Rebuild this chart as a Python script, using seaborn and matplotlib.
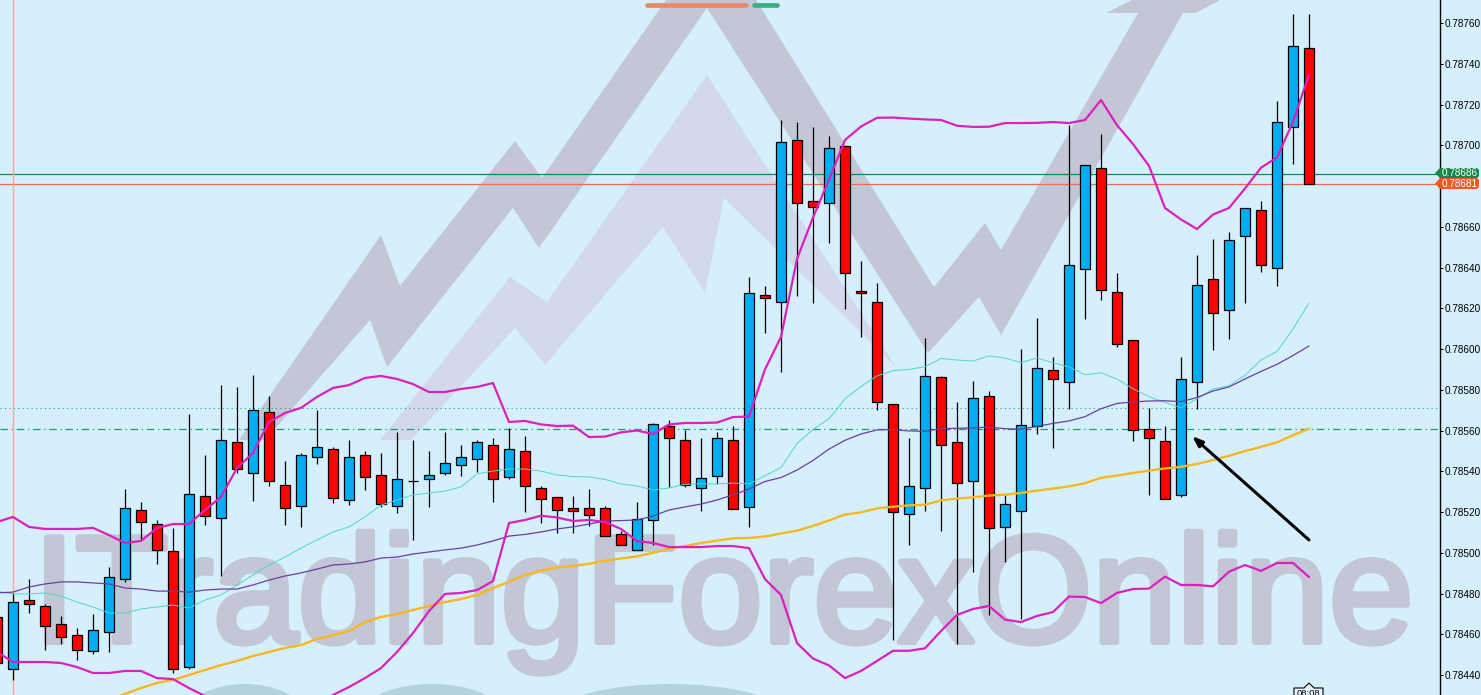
import matplotlib
matplotlib.use("Agg")
import matplotlib.patheffects as pe
import matplotlib.pyplot as plt
import numpy as np
import pandas as pd
import seaborn as sns
from matplotlib.patches import Ellipse, Polygon
from matplotlib.transforms import IdentityTransform

# all prices in 1e-5 units (points)
candle_index = list(range(-1, 82))

opens = [78468.5, 78443.0, 78476.8, 78473.9, 78465.0, 78459.6, 78451.8, 78461.1, 78487.1, 78521.0,
         78514.1, 78500.9, 78443.9, 78527.9, 78517.1, 78554.4, 78539.2, 78569.1, 78533.3, 78523.0,
         78547.0, 78550.9, 78525.9, 78548.0, 78538.2, 78523.0, 78535.0, 78536.2, 78539.2, 78543.1,
         78546.0, 78552.9, 78537.2, 78549.9, 78532.0, 78527.6, 78522.0, 78522.0, 78522.0, 78509.0,
         78501.5, 78516.1, 78562.2, 78555.2, 78532.0, 78537.8, 78555.2, 78522.7, 78626.3, 78622.9,
         78702.6, 78672.5, 78671.7, 78699.5, 78628.3, 78622.9, 78572.8, 78518.8, 78532.0, 78586.1,
         78554.2, 78535.1, 78576.8, 78512.8, 78520.7, 78562.0, 78589.9, 78584.0, 78639.3, 78689.0,
         78628.1, 78604.2, 78560.9, 78555.1, 78528.5, 78584.0, 78634.4, 78619.2, 78655.5, 78668.0,
         78639.9, 78709.1, 78747.6]
closes = [78445.9, 78475.8, 78474.9, 78464.1, 78458.7, 78452.3, 78462.1, 78488.1, 78522.0, 78515.1,
          78501.4, 78443.0, 78528.8, 78518.0, 78555.3, 78541.1, 78570.1, 78535.2, 78522.0, 78548.0,
          78551.9, 78526.9, 78547.0, 78537.2, 78523.9, 78536.2, 78535.0, 78538.2, 78544.1, 78547.0,
          78554.4, 78536.0, 78550.7, 78533.0, 78526.6, 78521.0, 78520.7, 78518.5, 78508.0, 78503.6,
          78516.8, 78563.0, 78556.1, 78533.3, 78536.9, 78556.1, 78521.6, 78627.3, 78625.2, 78701.4,
          78671.7, 78669.9, 78698.7, 78637.1, 78627.3, 78574.0, 78519.8, 78533.0, 78587.0, 78552.7,
          78534.1, 78575.8, 78512.0, 78523.7, 78562.9, 78590.9, 78585.1, 78641.0, 78690.2, 78629.2,
          78602.3, 78560.3, 78556.1, 78526.5, 78585.1, 78631.2, 78617.9, 78653.5, 78669.1, 78641.0,
          78711.3, 78748.5, 78681.0]
highs = [78468.5, 78480.3, 78487.1, 78474.9, 78469.0, 78463.1, 78469.9, 78493.0, 78531.3, 78524.9,
         78516.1, 78512.2, 78568.1, 78548.0, 78582.3, 78581.4, 78587.2, 78576.9, 78545.0, 78549.0,
         78570.1, 78551.9, 78555.3, 78549.9, 78549.0, 78559.3, 78555.3, 78549.9, 78559.3, 78552.9,
         78555.3, 78556.1, 78561.2, 78557.3, 78533.0, 78527.6, 78527.9, 78531.3, 78523.0, 78510.7,
         78524.9, 78563.9, 78565.2, 78560.3, 78556.1, 78559.3, 78562.0, 78635.3, 78631.1, 78712.2,
         78711.4, 78709.2, 78704.4, 78699.5, 78643.2, 78632.3, 78572.8, 78556.1, 78605.3, 78587.0,
         78573.8, 78584.2, 78579.4, 78528.8, 78600.0, 78615.3, 78595.9, 78709.9, 78690.2, 78705.6,
         78637.1, 78604.2, 78571.2, 78562.2, 78596.2, 78646.2, 78654.2, 78657.4, 78669.1, 78672.7,
         78721.7, 78764.4, 78764.4]
lows = [78445.9, 78437.6, 78470.4, 78452.3, 78455.2, 78447.4, 78450.3, 78451.3, 78485.7, 78506.3,
        78494.5, 78441.0, 78443.0, 78513.6, 78488.6, 78539.2, 78525.4, 78532.8, 78513.6, 78512.6,
        78543.6, 78524.4, 78523.4, 78530.8, 78522.5, 78519.5, 78506.3, 78522.5, 78538.2, 78537.7,
        78539.6, 78524.9, 78536.0, 78519.8, 78514.6, 78509.9, 78509.9, 78513.1, 78508.0, 78503.6,
        78501.5, 78503.6, 78532.3, 78532.3, 78520.7, 78533.8, 78521.6, 78512.8, 78608.1, 78588.9,
        78626.0, 78622.7, 78652.2, 78619.8, 78606.0, 78569.9, 78457.3, 78503.6, 78520.7, 78510.8,
        78455.3, 78490.6, 78469.5, 78495.5, 78467.5, 78558.1, 78551.6, 78570.7, 78614.7, 78624.1,
        78601.2, 78554.9, 78528.4, 78526.5, 78527.6, 78570.7, 78599.5, 78604.9, 78622.6, 78638.0,
        78630.9, 78690.8, 78681.0]

bb_upper = [78515.1, 78517.6, 78512.7, 78511.7, 78511.7, 78511.7, 78512.2, 78508.7, 78504.8, 78505.8,
            78512.2, 78514.1, 78514.1, 78521.0, 78527.4, 78541.6, 78549.0, 78564.2, 78568.6, 78571.1,
            78576.5, 78580.9, 78582.3, 78585.8, 78586.8, 78585.3, 78582.8, 78578.9, 78578.9, 78580.4,
            78581.4, 78583.3, 78564.2, 78564.7, 78563.0, 78562.2, 78562.4, 78556.8, 78557.0, 78559.1,
            78560.0, 78558.3, 78563.0, 78563.7, 78563.7, 78563.9, 78566.6, 78566.9, 78590.0, 78605.9,
            78644.2, 78664.5, 78683.1, 78702.6, 78709.2, 78713.5, 78713.6, 78713.1, 78712.7, 78712.4,
            78709.6, 78709.0, 78709.1, 78710.9, 78710.9, 78711.0, 78711.4, 78710.9, 78712.4, 78722.2,
            78709.9, 78700.6, 78689.9, 78669.2, 78663.6, 78658.9, 78666.0, 78669.2, 78678.8, 78689.0,
            78694.0, 78711.5, 78734.7]
bb_lower = [78451.3, 78446.4, 78446.4, 78446.4, 78445.9, 78443.9, 78441.0, 78441.0, 78442.0, 78442.0,
            78438.5, 78438.0, 78433.6, 78429.7, 78426.3, 78423.8, 78421.9, 78420.4, 78420.4, 78421.9,
            78424.8, 78430.2, 78434.1, 78438.5, 78443.4, 78451.3, 78460.6, 78471.4, 78479.8, 78480.3,
            78481.7, 78486.1, 78514.6, 78516.1, 78518.2, 78517.3, 78515.6, 78516.1, 78515.1, 78511.7,
            78505.8, 78504.8, 78502.8, 78502.8, 78502.8, 78503.3, 78503.3, 78502.3, 78487.1, 78479.3,
            78455.7, 78448.1, 78444.7, 78438.5, 78442.0, 78446.9, 78451.9, 78451.9, 78453.1, 78461.6,
            78469.5, 78472.4, 78473.9, 78467.2, 78466.0, 78469.0, 78470.9, 78478.5, 78478.3, 78475.3,
            78480.3, 78482.2, 78482.4, 78488.3, 78484.2, 78484.2, 78483.5, 78490.7, 78494.0, 78491.1,
            78495.0, 78495.0, 78488.1]
ma_cyan = [78481.2, 78479.8, 78479.8, 78480.3, 78478.8, 78475.8, 78473.4, 78470.4, 78470.4, 78472.4,
           78473.4, 78474.4, 78472.9, 78476.8, 78479.3, 78484.2, 78489.1, 78494.0, 78497.9, 78502.3,
           78506.3, 78510.2, 78512.7, 78517.6, 78523.4, 78525.9, 78528.4, 78529.3, 78530.3, 78532.3,
           78538.7, 78540.1, 78541.1, 78541.1, 78540.1, 78538.2, 78537.4, 78537.2, 78536.0, 78533.8,
           78532.8, 78530.8, 78531.8, 78533.6, 78533.9, 78533.8, 78534.2, 78533.8, 78537.8, 78541.9,
           78553.6, 78560.5, 78565.8, 78575.5, 78581.6, 78586.8, 78589.4, 78590.0, 78591.3, 78595.4,
           78594.6, 78594.1, 78596.6, 78595.6, 78593.3, 78595.6, 78593.3, 78591.2, 78587.4, 78588.3,
           78585.3, 78580.5, 78576.6, 78573.8, 78571.2, 78575.5, 78580.4, 78582.0, 78587.1, 78594.6,
           78598.8, 78609.8, 78622.6]
ma_purple = [78480.3, 78480.7, 78483.2, 78484.7, 78485.7, 78485.7, 78485.2, 78484.7, 78482.7, 78482.2,
             78481.2, 78481.2, 78480.7, 78481.7, 78482.2, 78482.2, 78484.2, 78486.6, 78488.6, 78490.1,
             78492.0, 78494.0, 78494.5, 78495.5, 78497.4, 78497.9, 78499.4, 78500.4, 78501.4, 78502.3,
             78503.8, 78505.8, 78508.2, 78509.0, 78510.2, 78511.7, 78512.7, 78514.1, 78515.6, 78515.8,
             78516.1, 78518.0, 78521.0, 78522.5, 78523.9, 78525.9, 78528.4, 78531.3, 78535.0, 78536.9,
             78540.6, 78545.3, 78550.9, 78555.2, 78558.3, 78560.3, 78560.5, 78559.8, 78559.6, 78560.9,
             78561.1, 78561.3, 78561.7, 78560.9, 78560.7, 78562.0, 78563.5, 78564.7, 78566.8, 78570.7,
             78573.3, 78574.0, 78574.5, 78574.6, 78574.2, 78576.2, 78579.4, 78581.4, 78585.3, 78589.0,
             78592.5, 78596.8, 78601.5]
# the slow average only comes into view from candle 6 on
ma_orange_index = list(range(6, 82))
ma_orange = [78427.7, 78430.7, 78433.6, 78436.1, 78437.6, 78440.0, 78442.5, 78444.9, 78446.9, 78449.3,
             78451.3, 78453.3, 78454.7, 78457.7, 78459.6, 78461.6, 78466.0, 78468.5, 78469.9, 78471.9,
             78473.9, 78475.8, 78477.3, 78479.3, 78482.7, 78485.7, 78489.1, 78491.3, 78492.8, 78493.5,
             78494.6, 78496.1, 78497.2, 78498.2, 78500.0, 78502.0, 78503.3, 78504.8, 78506.0, 78507.1,
             78507.3, 78508.0, 78509.5, 78510.8, 78513.2, 78515.8, 78518.8, 78519.8, 78521.8, 78522.6,
             78523.3, 78523.6, 78525.7, 78526.6, 78527.2, 78528.1, 78528.5, 78529.4, 78530.5, 78531.5,
             78532.6, 78534.1, 78536.8, 78537.9, 78539.2, 78540.3, 78541.4, 78542.2, 78543.6, 78545.5,
             78547.6, 78549.9, 78552.0, 78554.2, 78557.7, 78560.9]

tick_prices = [0.78440, 0.78460, 0.78480, 0.78500, 0.78520, 0.78540, 0.78560, 0.78580,
               0.78600, 0.78620, 0.78640, 0.78660, 0.78700, 0.78720, 0.78740, 0.78760]
bid_price = 0.78681
ask_price = 0.78686
dotted_level = 0.78571
dashdot_level = 0.785607

# watermark shapes, screen pixels from the top left
logo_dark = [(239, 440), (381, 235), (400, 286), (515, 141), (542, 178), (666, 0), (756, 0), (934, 287),
             (985, 223), (1001, 250), (1138, 13), (1106, 13), (1132, 0), (1220, 0), (1196, 13), (1183, 13),
             (1001, 335), (979, 297), (928, 353), (707, 8), (539, 248), (513, 208), (387, 367), (370, 320),
             (265, 440)]
logo_light = [(380, 440), (510, 277), (547, 302), (707, 75), (896, 367), (724, 198), (705, 293), (663, 227),
              (545, 365), (515, 328), (411, 440)]
bottom_blobs = [(245, 115), (432, 140), (670, 225)]

W, H = 1481, 695
BG = "#d6effd"

sns.set_style("white")
plt.rcParams["font.family"] = ["Liberation Sans", "DejaVu Sans"]

fig = plt.figure(figsize=(W / 100, H / 100), dpi=100, facecolor=BG)
ax = fig.add_axes([0, 0, 1440 / W, 1], facecolor=BG)
screen = IdentityTransform()


def scr(pts):
    return [(x, H - y) for x, y in pts]


# watermark
ax.add_patch(Polygon(scr(logo_dark), closed=True, fc="#c3c6d4", ec="none", transform=screen, zorder=0.5))
ax.add_patch(Polygon(scr(logo_light), closed=True, fc="#d3d9ec", ec="none", transform=screen, zorder=0.6))
for cx, w in bottom_blobs:
    ax.add_patch(Ellipse((cx, H - 714), w, 60, fc="#b4d3de", ec="none", transform=screen, zorder=0.5))
# no condensed font here, so regular weight with a stroke to get the heavy look
ax.text(33 / W, (H - 642) / H, "ITradingForexOnline", transform=fig.transFigure, fontsize=109.5,
        color="#c3c6d4", ha="left", va="baseline", zorder=0.7,
        path_effects=[pe.withStroke(linewidth=4.5, foreground="#c3c6d4")])

# levels
ax.axhline(ask_price, color="#128a55", lw=0.9, zorder=1)
ax.axhline(bid_price, color="#f0694a", lw=0.9, zorder=1)
ax.axhline(dotted_level, color="#2a9d77", lw=0.8, ls=(0, (1, 3)), zorder=1)
ax.axhline(dashdot_level, color="#1f9a6a", lw=0.9, ls=(0, (6, 3, 1, 3)), zorder=1)
ax.axvline(0, color="#f8c030", lw=1.0, zorder=1)

# candles
df = pd.DataFrame({"i": candle_index, "open": opens, "high": highs, "low": lows, "close": closes})
df[["open", "high", "low", "close"]] /= 1e5
ax.vlines(df["i"], df["low"], df["high"], color="black", lw=0.9, zorder=2)
body_colors = np.where(df["close"] > df["open"], "#00aeef", "#ff0000")
ax.bar(df["i"], (df["close"] - df["open"]).abs(), bottom=df[["open", "close"]].min(axis=1), width=0.63,
       color=body_colors, edgecolor="black", linewidth=0.9, zorder=3)

# indicators
bands = pd.DataFrame({"i": candle_index, "upper": bb_upper, "lower": bb_lower, "cyan": ma_cyan, "purple": ma_purple})
sns.lineplot(data=bands, x="i", y=bands["cyan"] / 1e5, color="#4fd6cc", lw=0.7, ax=ax, zorder=4)
sns.lineplot(data=bands, x="i", y=bands["purple"] / 1e5, color="#6b3f9e", lw=0.9, ax=ax, zorder=4)
sns.lineplot(x=ma_orange_index, y=np.array(ma_orange) / 1e5, color="#f6b820", lw=1.7, ax=ax, zorder=4)
sns.lineplot(data=bands, x="i", y=bands["upper"] / 1e5, color="#dc20bd", lw=1.6, ax=ax, zorder=5)
sns.lineplot(data=bands, x="i", y=bands["lower"] / 1e5, color="#dc20bd", lw=1.6, ax=ax, zorder=5)

# arrow drawn on the chart
ax.annotate("", xy=(73.69, 0.785573), xytext=(81, 0.785063), zorder=6,
            arrowprops=dict(arrowstyle="-|>,head_width=0.22,head_length=0.6", color="black", lw=2.2,
                            shrinkA=0, shrinkB=0))

# axes
ax.set_xlim(-13 / 16, 1427 / 16)
ax.set_ylim(0.784302, 0.787713)
ax.set_xticks([])
ax.set_xlabel("")
ax.set_ylabel("")
ax.yaxis.tick_right()
ax.set_yticks(tick_prices)
ax.set_yticklabels([f"{p:.5f}" for p in tick_prices])
ax.tick_params(axis="y", length=2.2, width=0.7, color="black", pad=0.8, labelsize=7.2, labelcolor="black", right=True)
for side in ["top", "left", "bottom"]:
    ax.spines[side].set_visible(False)
ax.spines["right"].set_color("black")
ax.spines["right"].set_linewidth(1.0)
ax.spines["right"].set_zorder(7)

# price flags on the scale
for price, color, y0, y1 in [(ask_price, "#0e8a4a", 168, 178), (bid_price, "#f05a22", 178, 189)]:
    flag = [(1435, (y0 + y1) / 2), (1440, y0), (1477, y0), (1479, y0 + 2), (1479, y1 - 2), (1477, y1), (1440, y1)]
    fig.add_artist(Polygon(scr(flag), closed=True, fc=color, ec="none", transform=screen, zorder=8))
    fig.text(1460 / W, (H - (y0 + y1) / 2) / H, f"{price:.5f}", color="white", fontsize=7.2, ha="center",
             va="center", zorder=9)

# progress pill at the top
fig.add_artist(plt.Line2D([647, 746], [H - 5, H - 5], color="#e8886a", lw=3.4, solid_capstyle="round",
                          transform=screen, zorder=8))
fig.add_artist(plt.Line2D([754, 777], [H - 5, H - 5], color="#3bb07e", lw=3.4, solid_capstyle="round",
                          transform=screen, zorder=8))

# time tag at the bottom edge
tag = [(1294, 700), (1294, 688), (1304, 688), (1309, 683), (1314, 688), (1323, 688), (1323, 700)]
fig.add_artist(Polygon(scr(tag), closed=True, fc="#e8f6fd", ec="black", lw=0.8, transform=screen, zorder=8))
fig.text(1308.5 / W, (H - 693.5) / H, "08:08", color="black", fontsize=6.8, ha="center", va="center", zorder=9)

fig.savefig("out.png", dpi=100, facecolor=BG)
